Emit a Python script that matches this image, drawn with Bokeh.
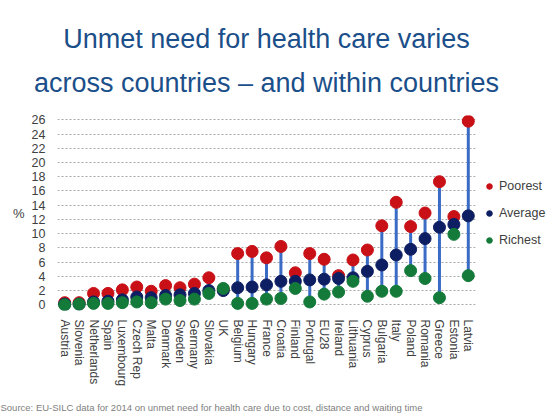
import numpy as np
from bokeh.plotting import figure
from bokeh.models import Range1d, FactorRange, Legend, LegendItem, Title, SingleIntervalTicker
from bokeh.embed import file_html
from bokeh.resources import INLINE

title_line1 = "Unmet need for health care varies"
title_line2 = "across countries \u2013 and within countries"
source_text = "Source:  EU-SILC data for 2014 on unmet need for health care due to cost, distance and waiting time"

countries = ["Austria", "Slovenia", "Netherlands", "Spain", "Luxembourg", "Czech Rep", "Malta",
             "Denmark", "Sweden", "Germany", "Slovakia", "UK", "Belgium", "Hungary", "France",
             "Croatia", "Finland", "Portugal", "EU28", "Ireland", "Lithuania", "Cyprus",
             "Bulgaria", "Italy", "Poland", "Romania", "Greece", "Estonia", "Latvia"]
poorest = [0.3, 0.3, 1.6, 1.6, 2.1, 2.5, 1.9, 2.7, 2.4, 2.9, 3.8, 2.2, 7.2, 7.5, 6.6,
           8.2, 4.5, 7.2, 6.4, 4.1, 6.3, 7.7, 11.1, 14.4, 11.0, 12.9, 17.3, 12.4, 25.8]
average = [0.1, 0.1, 0.4, 0.5, 0.7, 1.1, 1.0, 1.3, 1.4, 1.6, 2.0, 2.0, 2.4, 2.5, 2.8,
           3.3, 3.3, 3.5, 3.6, 3.7, 3.8, 4.7, 5.6, 7.0, 7.8, 9.3, 10.9, 11.3, 12.5]
richest = [0.0, 0.1, 0.2, 0.2, 0.3, 0.4, 0.3, 0.8, 0.6, 0.8, 1.6, 2.3, 0.2, 0.2, 0.8,
           0.9, 2.3, 0.4, 1.5, 1.8, 3.3, 1.2, 1.9, 1.9, 4.8, 3.7, 1.0, 9.9, 4.1]
yticks_interval = 2

RED = "#C81016"
NAVY = "#0E1E62"
GREEN = "#137A3A"
LINE = "#3A6CC6"
FONT = "Liberation Sans"
TITLE_COLOR = "#1B4F8A"

lo = np.minimum(np.minimum(poorest, average), richest)
hi = np.maximum(np.maximum(poorest, average), richest)

p = figure(frame_width=418, frame_height=195, x_range=FactorRange(factors=countries),
           y_range=Range1d(-0.8, 26.6), output_backend="svg", toolbar_location=None,
           min_border_left=57, min_border_right=74, min_border_top=115, min_border_bottom=100)

p.segment(x0=countries, y0=lo, x1=countries, y1=hi, line_color=LINE, line_width=3)
r_p = p.scatter(x=countries, y=poorest, size=12, fill_color=RED, line_color=RED)
r_a = p.scatter(x=countries, y=average, size=12, fill_color=NAVY, line_color=NAVY)
r_r = p.scatter(x=countries, y=richest, size=12, fill_color=GREEN, line_color=GREEN)

# titles (p.title is the outer line)
p.title.text = title_line1
p.title.align = "center"
p.title.offset = 6
p.title.text_font = FONT
p.title.text_font_size = "27px"
p.title.text_font_style = "normal"
p.title.text_color = TITLE_COLOR
p.title.standoff = -11
t2 = Title(text=title_line2, align="center", offset=6, text_font=FONT, text_font_size="27px",
           text_font_style="normal", text_color=TITLE_COLOR, standoff=35)
p.add_layout(t2, "above")

src = Title(text=source_text, align="left", text_font=FONT, text_font_size="9.5px",
            text_font_style="normal", text_color="#808080", offset=-57, standoff=20)
p.add_layout(src, "below")

# axes
p.xgrid.visible = False
p.ygrid.grid_line_color = "#A6A6A6"
p.ygrid.grid_line_dash = "2 2"
p.outline_line_color = None

p.yaxis.ticker = SingleIntervalTicker(interval=yticks_interval)
p.yaxis.axis_line_color = None
p.yaxis.major_tick_line_color = None
p.yaxis.minor_tick_line_color = None
p.yaxis.major_label_standoff = 6
p.yaxis.major_label_text_font = FONT
p.yaxis.major_label_text_font_size = "12.5px"
p.yaxis.major_label_text_color = "#404040"
p.yaxis.axis_label = "%"
p.yaxis.axis_label_orientation = "horizontal"
p.yaxis.axis_label_text_font = FONT
p.yaxis.axis_label_text_font_size = "13px"
p.yaxis.axis_label_text_font_style = "normal"
p.yaxis.axis_label_text_color = "#404040"
p.yaxis.axis_label_standoff = 4

p.xaxis.axis_line_color = None
p.xaxis.major_tick_line_color = None
p.xaxis.minor_tick_line_color = None
p.xaxis.major_label_orientation = "vertical"
p.xaxis.major_label_standoff = 3
p.xaxis.major_label_text_font = FONT
p.xaxis.major_label_text_font_size = "12px"
p.xaxis.major_label_text_color = "#404040"

legend = Legend(items=[LegendItem(label="Poorest", renderers=[r_p]),
                       LegendItem(label="Average", renderers=[r_a]),
                       LegendItem(label="Richest", renderers=[r_r])],
                location="center_left", margin=7, padding=0, spacing=13,
                glyph_width=14, glyph_height=14, label_height=14, label_standoff=3,
                label_text_font=FONT, label_text_font_size="12.5px", label_text_color="#404040",
                border_line_alpha=0, background_fill_alpha=0)
p.add_layout(legend, "right")

open("out.html", "w").write(file_html(p, INLINE))
